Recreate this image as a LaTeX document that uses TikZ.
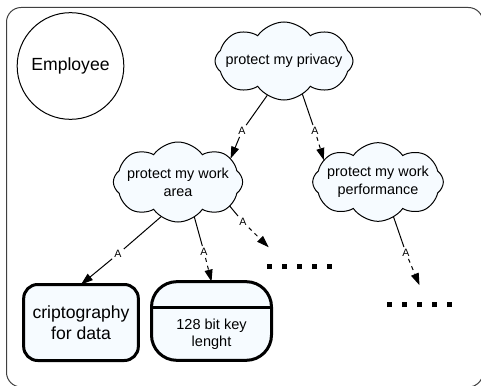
\documentclass[tikz,border=0pt]{standalone}
\usepackage{fontspec}
\setmainfont{Liberation Sans}
\usetikzlibrary{shapes.symbols,arrows.meta}
\definecolor{conceptfill}{RGB}{246,251,255}
\newcommand\dotsq{\rule{3.75pt}{3.75pt}}
\newcommand\fivedots{\dotsq\hspace{7.5pt}\dotsq\hspace{7.5pt}\dotsq\hspace{7.5pt}\dotsq\hspace{7.5pt}\dotsq}
\begin{document}
\begin{tikzpicture}[x=0.75pt,y=-0.75pt,
  concept/.style={cloud, cloud puffs=8, cloud puff arc=110, cloud ignores aspect,
    draw, line width=0.75pt, fill=conceptfill, inner sep=0pt, outer sep=0pt},
  cloudtext/.style={align=center, font=\fontsize{10.8pt}{13.5pt}\selectfont},
  leafbox/.style={draw, line width=2.25pt, fill=conceptfill, inner sep=0pt, outer sep=0pt,
    minimum width=86pt, minimum height=57pt},
  linklabel/.style={font=\fontsize{8pt}{9pt}\selectfont, inner sep=1.5pt},
  link/.style={line width=0.75pt},
  tip/.style={-{Triangle[length=9pt,width=6pt]}},
  ellipsis/.style={inner sep=0pt, minimum width=56pt, minimum height=28.5pt}
]
\useasboundingbox (0,0) rectangle (481,385);
% outer frame, running past the page edge on the right and bottom
\begin{scope}
  \clip (0,0) rectangle (481,385);
  \draw[black!75, line width=0.75pt, rounded corners=11pt] (6.5,7.5) rectangle (483,387);
\end{scope}

% actor
\node[circle, draw, line width=0.75pt, minimum size=80pt, inner sep=0pt,
  font=\fontsize{13.2pt}{15pt}\selectfont] (emp) at (70.5,66) {Employee};

% goal clouds
\node[concept, minimum width=103.5pt, minimum height=58.5pt] (priv) at (284,61) {};
\node[cloudtext] (privtxt) at (priv.center) {protect my privacy};
\node[concept, minimum width=97pt, minimum height=60pt] (area) at (178,182) {};
\node[cloudtext] (areatxt) at (area.center) {protect my work\\area};
\node[concept, minimum width=98pt, minimum height=59pt] (perf) at (378,182) {};
\node[cloudtext] (perftxt) at (perf.center) {protect my work\\performance};

% leaf boxes
\node[leafbox, rounded corners=10.5pt, align=center,
  font=\fontsize{13.2pt}{15.75pt}\selectfont] (crypt) at (81,322.5) {criptography\\for data};
\node[leafbox, rounded corners=19pt, minimum width=90pt, minimum height=59pt] (key) at (211.5,321) {};
\draw[line width=2.25pt] ([yshift=10.5pt]key.west) -- ([yshift=10.5pt]key.east);
\node[align=center, font=\fontsize{10.9pt}{12.75pt}\selectfont] (keytxt) at (211.5,334.5) {128 bit key\\lenght};

% open continuations
\node[ellipsis] (d1) at (299.5,266.5) {\fivedots};
\node[ellipsis] (d2) at (419.5,304.5) {\fivedots};

% link labels
\node[linklabel] (a1) at (242,131) {A};
\node[linklabel] (a2) at (315,131) {A};
\node[linklabel] (a3) at (243,222) {A};
\node[linklabel] (a4) at (118,254) {A};
\node[linklabel] (a5) at (204,252) {A};
\node[linklabel] (a6) at (406,253) {A};

% links
\draw[link] (priv.244) -- (a1);
\draw[link,tip] (a1) -- (area.24);
\draw[link] (priv.-61) -- (a2);
\draw[link,dashed,tip] (a2) -- (perf.158);
\draw[link] (area.-25) -- (a3);
\draw[link,dashed,tip] (a3) -- (d1.148);
\draw[link] (area.-116) -- (a4);
\draw[link,tip] (a4) -- (crypt.north);
\draw[link] (area.-65) -- (a5);
\draw[link,dashed,tip] (a5) -- (key.north);
\draw[link] (perf.-66) -- (a6);
\draw[link,dashed,tip] (a6) -- (d2.north);
\end{tikzpicture}
\end{document}
